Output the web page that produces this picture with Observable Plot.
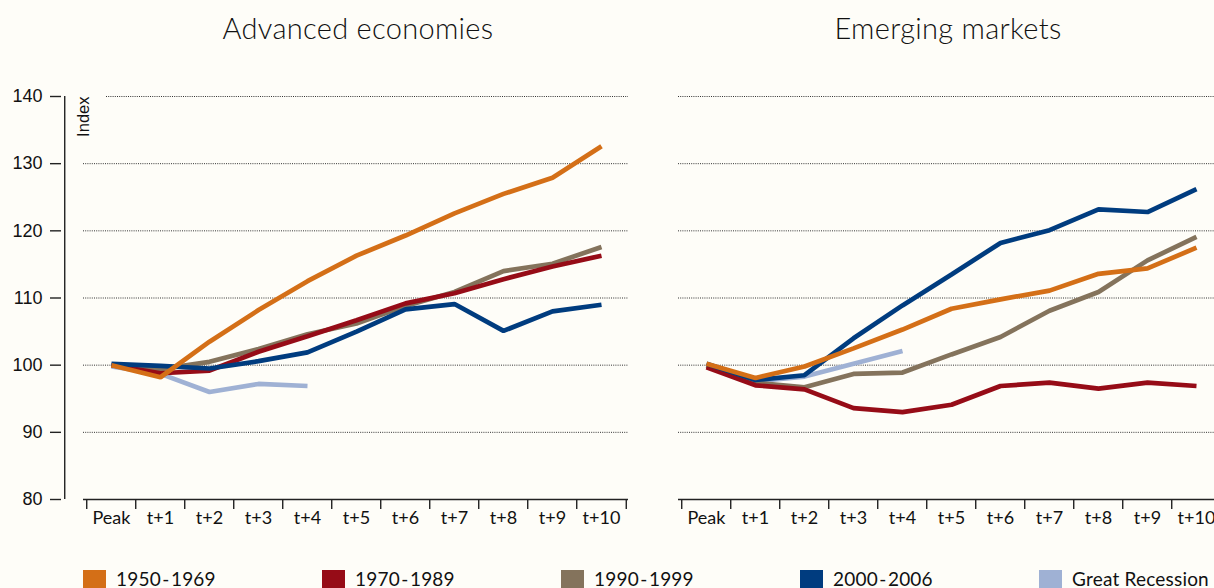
<!DOCTYPE html>
<html>
<head>
<meta charset="utf-8">
<script src="https://cdn.jsdelivr.net/npm/d3@7"></script>
<script src="https://cdn.jsdelivr.net/npm/@observablehq/plot@0.6"></script>
<style>
  html, body { margin: 0; padding: 0; }
  body { background: #fefdf8; width: 1214px; height: 588px; overflow: hidden; position: relative; font-family: Lato, "Noto Sans", sans-serif; color: #111; }
  .title { position: absolute; top: 14px; font-size: 29px; line-height: 28px; transform: translateX(-50%); white-space: nowrap; font-weight: 300; letter-spacing: 0.3px; }
  .panel { position: absolute; top: 60px; width: 640px; height: 479px; }
  .panel svg { max-width: none !important; }
  .item { position: absolute; top: 568px; height: 20px; }
  .sw { position: absolute; left: 0; top: 2px; width: 23px; height: 20px; }
  .lab { position: absolute; left: 33px; top: 0px; font-size: 19px; line-height: 22px; white-space: nowrap; letter-spacing: 0.2px; }
</style>
</head>
<body>
<div id="root"></div>
<script>
// ---- data ----
const periods = ["Peak", "t+1", "t+2", "t+3", "t+4", "t+5", "t+6", "t+7", "t+8", "t+9", "t+10"];
const seriesNames = ["1950-1969", "1970-1989", "1990-1999", "2000-2006", "Great Recession"];
const seriesLabels = ["1950\u200a-\u200a1969", "1970\u200a-\u200a1989", "1990\u200a-\u200a1999", "2000\u200a-\u200a2006", "Great Recession"];
const seriesColors = ["#d46f17", "#960c17", "#84735c", "#003c7f", "#9fb1d4"];
const panelTitles = ["Advanced economies", "Emerging markets"];
const yTicks = [80, 90, 100, 110, 120, 130, 140];

// Advanced economies
const adv1950 = [100, 98.2, 103.5, 108.2, 112.5, 116.3, 119.3, 122.6, 125.5, 127.9, 132.6];
const adv1970 = [100, 98.8, 99.2, 102.0, 104.3, 106.7, 109.2, 110.7, 112.8, 114.7, 116.3];
const adv1990 = [100, 99.4, 100.5, 102.4, 104.6, 106.2, 108.8, 110.9, 114.0, 115.1, 117.6];
const adv2000 = [100.2, 99.9, 99.5, 100.6, 101.9, 105.0, 108.3, 109.1, 105.1, 108.0, 109.0];
const advGR = [99.8, 98.7, 96.0, 97.2, 96.9];

// Emerging markets
const em1950 = [100.2, 98.1, 99.8, 102.5, 105.3, 108.4, 109.8, 111.1, 113.6, 114.4, 117.5];
const em1970 = [99.7, 97.0, 96.4, 93.6, 93.0, 94.1, 96.9, 97.4, 96.5, 97.4, 96.9];
const em1990 = [99.9, 97.4, 96.7, 98.7, 98.9, 101.6, 104.2, 108.1, 110.9, 115.6, 119.1];
const em2000 = [100.2, 97.8, 98.5, 104.0, 108.9, 113.5, 118.2, 120.1, 123.2, 122.8, 126.2];
const emGR = [100.0, 97.6, 98.3, 100.2, 102.1];

const panelData = [
  [adv1950, adv1970, adv1990, adv2000, advGR],
  [em1950, em1970, em1990, em2000, emGR]
];
const drawOrder = [4, 2, 1, 3, 0];

// ---- layout ----
const W = 640, H = 479, ML = 61, IL = 22, MR = 12, MT = 36, MB = 40;
const half = (W - ML - IL - MR) / periods.length / 2;
const panelLefts = [0, 595];
const titleCenters = [358, 948];

function rowsFor(p) {
  const rows = [];
  drawOrder.forEach(si => {
    panelData[p][si].forEach((v, i) => rows.push({series: seriesNames[si], period: periods[i], value: v}));
  });
  return rows;
}

function makePanel(p) {
  const rows = rowsFor(p);
  const marks = [
    Plot.ruleY(yTicks.filter(v => v > 80 && v < 140), {stroke: "#333", strokeWidth: 1, strokeDasharray: "1,1.2", insetLeft: IL}),
    Plot.ruleY([140], {stroke: "#333", strokeWidth: 1, strokeDasharray: "1,1.2", insetLeft: p === 0 ? IL + 23 : IL}),
    Plot.ruleY([80], {stroke: "#222", strokeWidth: 1.4, insetLeft: IL}),
    Plot.axisX(periods, {tickSize: 10, tickFormat: () => "", label: null, dx: -half, stroke: "#222", strokeWidth: 1.4}),
    Plot.axisX([periods[periods.length - 1]], {tickSize: 10, tickFormat: () => "", label: null, dx: half, stroke: "#222", strokeWidth: 1.4}),
    Plot.axisX(periods, {tickSize: 0, tickPadding: 12, label: null, fontSize: 18, fontFamily: "Lato", fill: "#111", letterSpacing: "0.7px"}),
    Plot.line(rows, {x: "period", y: "value", z: "series", stroke: "series", strokeWidth: 4.7, strokeLinejoin: "miter", strokeLinecap: "butt"})
  ];
  if (p === 0) {
    marks.push(Plot.ruleX([periods[0]], {y1: yTicks[0], y2: yTicks[yTicks.length - 1], dx: -(half + IL), stroke: "#222", strokeWidth: 1.4}));
    marks.push(Plot.axisY(yTicks, {tickSize: 11, tickPadding: 8, label: null, fontSize: 18, fontFamily: "Liberation Sans", fill: "#111", stroke: "#222", strokeWidth: 1.4}));
    marks.push(Plot.text(["Index"], {frameAnchor: "top-left", rotate: -90, textAnchor: "end", dx: IL - 6, fontSize: 16.5, fontFamily: "Liberation Sans", fill: "#111"}));
  }
  return Plot.plot({
    width: W, height: H,
    marginLeft: ML, marginRight: MR, marginTop: MT, marginBottom: MB,
    insetLeft: IL,
    style: {background: "transparent", overflow: "visible", maxWidth: "none"},
    x: {type: "point", domain: periods, padding: 0.5, axis: null},
    y: {domain: [80, 140], axis: null},
    color: {domain: seriesNames, range: seriesColors},
    marks
  });
}

const root = document.getElementById("root");
[0, 1].forEach(p => {
  const t = document.createElement("div");
  t.className = "title";
  t.style.left = titleCenters[p] + "px";
  t.textContent = panelTitles[p];
  root.appendChild(t);
  const wrap = document.createElement("div");
  wrap.className = "panel";
  wrap.style.left = panelLefts[p] + "px";
  wrap.appendChild(makePanel(p));
  root.appendChild(wrap);
});

seriesNames.forEach((s, i) => {
  const it = document.createElement("div");
  it.className = "item";
  it.style.left = (83 + i * 239) + "px";
  const sw = document.createElement("div");
  sw.className = "sw";
  sw.style.background = seriesColors[i];
  const lab = document.createElement("div");
  lab.className = "lab";
  lab.textContent = seriesLabels[i];
  it.appendChild(sw);
  it.appendChild(lab);
  root.appendChild(it);
});
</script>
</body>
</html>
